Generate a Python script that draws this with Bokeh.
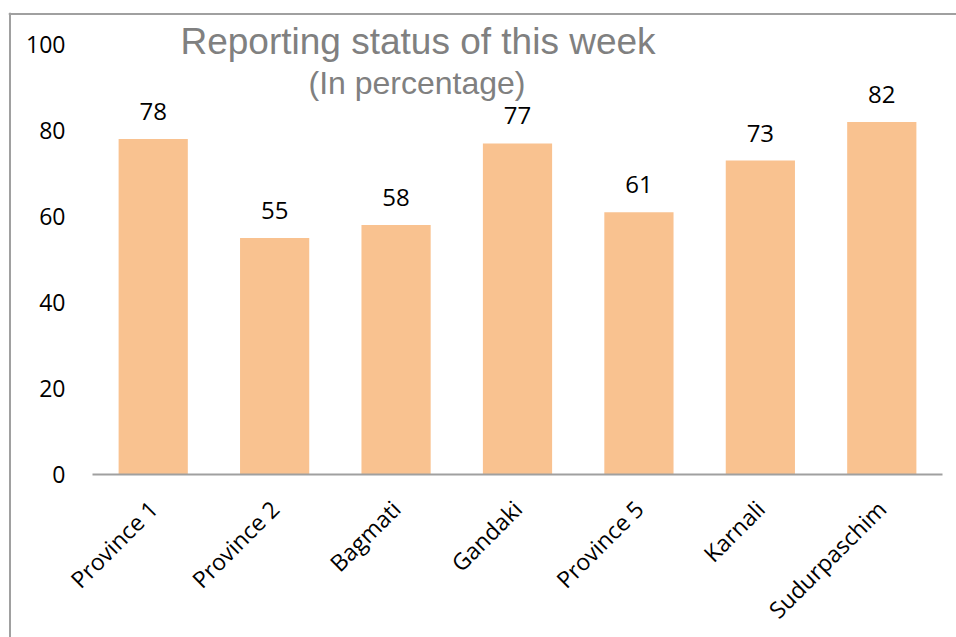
from bokeh.plotting import figure
from bokeh.models import ColumnDataSource, Range1d, FixedTicker, Label, Span
from bokeh.core.properties import value
from bokeh.embed import file_html
from bokeh.resources import INLINE
import math

provinces = ["Province 1", "Province 2", "Bagmati", "Gandaki", "Province 5", "Karnali", "Sudurpaschim"]
reporting = [78, 55, 58, 77, 61, 73, 82]
y_ticks = [0, 20, 40, 60, 80, 100]
title_text = "Reporting status of this week"
subtitle_text = "(In percentage)"

# layout (pixels)
W, H = 956, 637
FL, FT = 8, 12            # frame left / top
AX_X0, AX_X1 = 92, 942    # category axis extent
AX_Y0, AX_Y100 = 474, 44  # y=0 and y=100 pixel rows
ppx = (AX_X1 - AX_X0) / len(provinces)
ppy = (AX_Y0 - AX_Y100) / 100.0

xpos = [i + 0.5 for i in range(len(provinces))]
src = ColumnDataSource(dict(x=xpos, y=reporting, lbl=[str(v) for v in reporting]))

p = figure(
    x_range=Range1d(-(AX_X0 - FL) / ppx, (W - AX_X0) / ppx),
    y_range=Range1d(-(H - AX_Y0) / ppy, (AX_Y0 - FT) / ppy),
    width=W, height=H,
    output_backend="svg", toolbar_location=None,
    min_border_left=FL, min_border_right=0, min_border_top=FT, min_border_bottom=0,
)
p.outline_line_color = None
p.xgrid.grid_line_color = None
p.ygrid.grid_line_color = None

# chart border (top and left visible)
p.add_layout(Span(location=(AX_Y0 - 13.5) / ppy, dimension="width", line_color="#a0a0a0", line_width=2))
p.add_layout(Span(location=(9.5 - AX_X0) / ppx, dimension="height", line_color="#a0a0a0", line_width=2))

p.vbar(x="x", top="y", width=0.57, source=src, fill_color="#F9C290", line_color=None)
p.text(x="x", y="y", text="lbl", source=src, text_align="center", text_baseline="bottom",
       y_offset=-19, text_font=value("Open Sans"), text_font_size="24px", text_color="#000000")

p.yaxis.fixed_location = 0
p.yaxis.bounds = (0, 100)
p.yaxis.ticker = FixedTicker(ticks=y_ticks)
p.yaxis.axis_line_color = None
p.yaxis.major_tick_line_color = None
p.yaxis.minor_tick_line_color = None
p.yaxis.major_label_standoff = 21
p.yaxis.major_label_text_font = "Open Sans"
p.yaxis.major_label_text_font_size = "23px"
p.yaxis.major_label_text_color = "#000000"

p.xaxis.fixed_location = 0
p.xaxis.bounds = (0, len(provinces))
p.xaxis.ticker = FixedTicker(ticks=xpos)
p.xaxis.major_label_overrides = {x: name for x, name in zip(xpos, provinces)}
p.xaxis.axis_line_color = "#a0a0a0"
p.xaxis.axis_line_width = 2
p.xaxis.major_tick_line_color = None
p.xaxis.minor_tick_line_color = None
p.xaxis.major_label_orientation = math.pi / 4
p.xaxis.major_label_standoff = 24
p.xaxis.major_label_text_font = "Open Sans"
p.xaxis.major_label_text_font_size = "23px"
p.xaxis.major_label_text_color = "#000000"

p.add_layout(Label(x=(417.5 - AX_X0) / ppx, y=100.7, text=title_text, text_align="center",
                   text_baseline="alphabetic", text_font="Liberation Sans", text_font_size="37px",
                   text_color="#808080"))
p.add_layout(Label(x=(416.5 - AX_X0) / ppx, y=91.0, text=subtitle_text, text_align="center",
                   text_baseline="alphabetic", text_font="Liberation Sans", text_font_size="32px",
                   text_color="#808080"))

open("out.html", "w").write(file_html(p, INLINE))
